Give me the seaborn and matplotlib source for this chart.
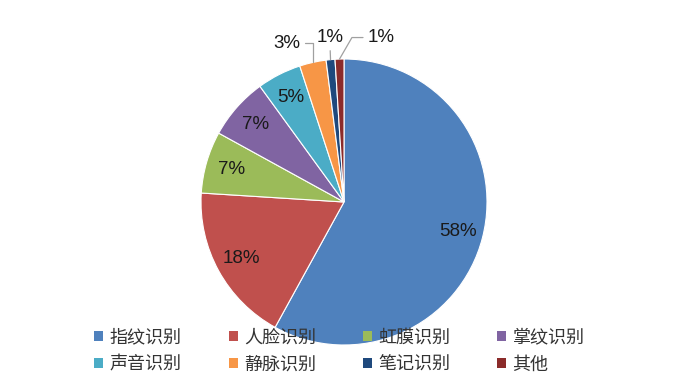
import numpy as np
import matplotlib
matplotlib.use("Agg")
import matplotlib.pyplot as plt
import seaborn as sns

categories = ["指纹识别", "人脸识别", "虹膜识别", "掌纹识别", "声音识别", "静脉识别", "笔记识别", "其他"]
values = [58, 18, 7, 7, 5, 3, 1, 1]
colors = ["#4F81BD", "#C0504D", "#9BBB59", "#8064A2", "#4BACC6", "#F79646", "#1F497D", "#8B2B2A"]

sns.set_theme(style="white")
plt.rcParams['font.family'] = ['Liberation Sans', 'DejaVu Sans']
sns.set_palette(colors)

W, H = 699, 392
fig = plt.figure(figsize=(W / 100, H / 100), dpi=100)
fig.patch.set_facecolor("white")
cx, cy, R = 344, 202, 143
ax = fig.add_axes([(cx - R) / W, (H - cy - R) / H, 2 * R / W, 2 * R / H])

wedges, _ = ax.pie(values, colors=sns.color_palette(), startangle=90, counterclock=False,
                   radius=1, wedgeprops=dict(edgecolor="white", linewidth=0.8))
ax.set_xlim(-1, 1)
ax.set_ylim(-1, 1)
ax.set_aspect("equal")
ax.axis("off")

txt_kw = dict(fontsize=13.5, color="#1a1a1a")
outside = {5: ((-0.40, 1.11), "angle,angleA=0,angleB=90,rad=0"),
           6: ((-0.10, 1.15), "arc3"),
           7: ((0.26, 1.15), "angle,angleA=0,angleB=60,rad=0")}
for i, (w, v) in enumerate(zip(wedges, values)):
    mid = np.deg2rad((w.theta1 + w.theta2) / 2)
    if i in outside:
        pos, cs = outside[i]
        ax.annotate(f"{v}%", xy=(np.cos(mid), np.sin(mid)), xytext=pos,
                    ha="center", va="center",
                    arrowprops=dict(arrowstyle="-", color="#a0a0a0", lw=0.9,
                                    connectionstyle=cs, shrinkA=1, shrinkB=0),
                    annotation_clip=False, **txt_kw)
    else:
        d = 0.82
        ax.text(d * np.cos(mid), d * np.sin(mid), f"{v}%", ha="center", va="center", **txt_kw)

ncol = 4
order = [r * ncol + c for c in range(ncol) for r in range(2)]
leg = fig.legend([wedges[k] for k in order], [categories[k] for k in order],
                 ncol=ncol, frameon=False, loc="center left",
                 bbox_to_anchor=(78 / W, 1 - 351 / H),
                 prop=dict(family=["Noto Sans CJK SC", "DejaVu Sans"], size=13),
                 handlelength=0.5, handleheight=0.5, handletextpad=0.35,
                 columnspacing=2.6, labelspacing=0.5, labelcolor="#333333")
for h in leg.legend_handles:
    h.set_linewidth(0)

fig.savefig("out.png", dpi=100, facecolor="white")
